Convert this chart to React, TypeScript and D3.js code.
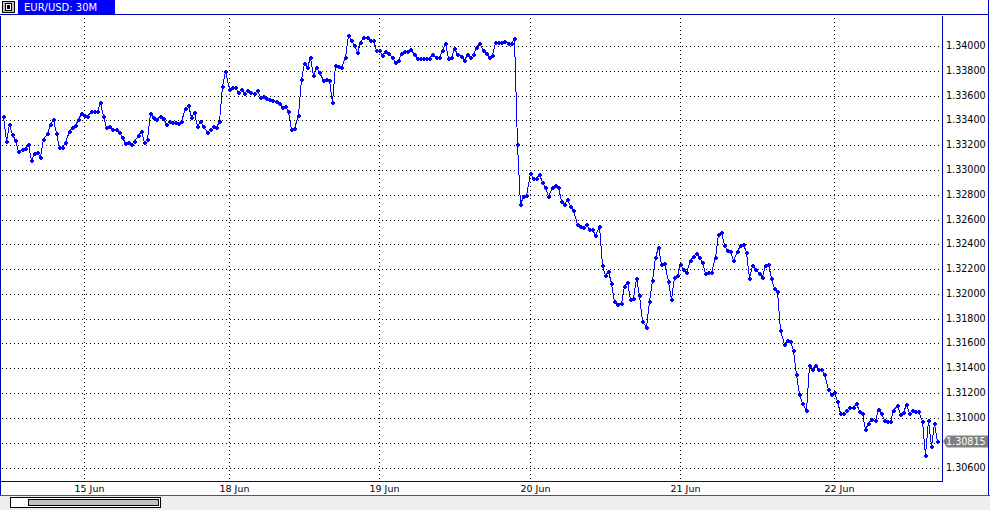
import React from "react";
import * as d3 from "d3";

const PRICES: number[] = [
  1.33434, 1.33232, 1.33374, 1.33286, 1.3324, 1.33149, 1.3317, 1.33178, 1.33208, 1.33076,
  1.33136, 1.33141, 1.33103, 1.33246, 1.33294, 1.33374, 1.33412, 1.33294, 1.33181, 1.33181,
  1.33221, 1.33313, 1.33348, 1.33364, 1.33407, 1.33455, 1.33439, 1.33434, 1.33477, 1.33479,
  1.33474, 1.33544, 1.33434, 1.33345, 1.33353, 1.33329, 1.33329, 1.33302, 1.33267, 1.33213,
  1.33221, 1.33208, 1.33232, 1.33281, 1.3331, 1.33221, 1.33246, 1.33458, 1.33423, 1.33412,
  1.33434, 1.33415, 1.33369, 1.33391, 1.33384, 1.33389, 1.33378, 1.33397, 1.33497, 1.33524,
  1.3343, 1.33465, 1.33354, 1.33397, 1.33351, 1.33303, 1.33332, 1.33354, 1.33343, 1.33395,
  1.33673, 1.338, 1.33649, 1.33668, 1.33668, 1.33632, 1.33651, 1.33624, 1.33643, 1.33632,
  1.33622, 1.33643, 1.33586, 1.33597, 1.33578, 1.33573, 1.33565, 1.33559, 1.33543, 1.33505,
  1.33519, 1.33473, 1.33327, 1.33335, 1.33441, 1.33735, 1.33862, 1.33827, 1.33908, 1.33762,
  1.3383, 1.33792, 1.33722, 1.3373, 1.33724, 1.33548, 1.33848, 1.33834, 1.33826, 1.33909,
  1.34088, 1.34048, 1.34008, 1.33949, 1.34035, 1.34072, 1.34069, 1.34048, 1.34045, 1.33965,
  1.33965, 1.33928, 1.33957, 1.33941, 1.33907, 1.33869, 1.33888, 1.33939, 1.33955, 1.3396,
  1.33971, 1.33933, 1.33901, 1.33899, 1.33901, 1.33899, 1.33901, 1.33933, 1.33909, 1.33912,
  1.33968, 1.34027, 1.33899, 1.33912, 1.33981, 1.33931, 1.33915, 1.33883, 1.33933, 1.33912,
  1.33933, 1.33992, 1.34027, 1.33968, 1.33941, 1.33907, 1.33925, 1.34029, 1.34032, 1.34032,
  1.34043, 1.34021, 1.34021, 1.34061, 1.33208, 1.32727, 1.32792, 1.32797, 1.32973, 1.32938,
  1.32938, 1.32965, 1.32906, 1.32866, 1.32792, 1.32861, 1.3288, 1.32861, 1.32751, 1.32725,
  1.32765, 1.32711, 1.32679, 1.32562, 1.32546, 1.32541, 1.32562, 1.32527, 1.32527, 1.32471,
  1.32549, 1.32234, 1.32153, 1.32188, 1.32086, 1.31944, 1.3192, 1.31926, 1.3206, 1.321,
  1.31958, 1.31963, 1.32127, 1.3199, 1.31784, 1.31733, 1.31944, 1.32113, 1.32301, 1.32376,
  1.32242, 1.32247, 1.32105, 1.31958, 1.3214, 1.32153, 1.32239, 1.32199, 1.3218, 1.32274,
  1.32306, 1.32328, 1.32301, 1.32261, 1.32167, 1.32175, 1.3218, 1.32301, 1.32483, 1.32502,
  1.32395, 1.32354, 1.32349, 1.32274, 1.32346, 1.32395, 1.32403, 1.32341, 1.32127, 1.32234,
  1.32202, 1.32167, 1.32135, 1.32234, 1.32239, 1.32127, 1.32046, 1.32025, 1.31708, 1.31593,
  1.31627, 1.31622, 1.31544, 1.31357, 1.31191, 1.31124, 1.31062, 1.31424, 1.31397, 1.31424,
  1.31392, 1.31397, 1.31357, 1.31236, 1.3119, 1.31212, 1.31137, 1.31036, 1.31039, 1.31063,
  1.31087, 1.3109, 1.3112, 1.31055, 1.31039, 1.30913, 1.30959, 1.30991, 1.30986, 1.31071,
  1.31039, 1.3098, 1.30972, 1.30972, 1.31061, 1.31104, 1.31034, 1.31045, 1.31112, 1.31039,
  1.31063, 1.31055, 1.31055, 1.30975, 1.30704, 1.3098, 1.30777, 1.30959, 1.30815,
];

const DATE_TICK_INDEX = [26, 72, 120, 168, 216, 265];
const DATE_LABELS = ["15 Jun", "18 Jun", "19 Jun", "20 Jun", "21 Jun", "22 Jun"];
const PRICE_TICKS = [
  1.306, 1.308, 1.31, 1.312, 1.314, 1.316, 1.318, 1.32, 1.322,
  1.324, 1.326, 1.328, 1.33, 1.332, 1.334, 1.336, 1.338, 1.34,
];
const SYMBOL_LABEL = "EUR/USD: 30M";
const LAST_PRICE = 1.30815;

const FONT = "'DejaVu Sans', Verdana, sans-serif";
const FRAME = "#0000b4";
const LINE = "#0000ff";

export default function App() {
  const W = 990;
  const H = 510;
  const plotL = 0.5;
  const plotR = 942.5;
  const plotT = 15.5;
  const plotB = 481.5;

  const x = d3.scaleLinear().domain([0, PRICES.length - 1]).range([2.7, 937.3]);
  const y = d3.scaleLinear().domain([1.306, 1.34]).range([467.5, 45.9]);
  const line = d3
    .line<number>()
    .x((_, i) => Math.round(x(i)) + 0.5)
    .y((d) => Math.round(y(d)) + 0.5);

  const fmt = d3.format(".5f");
  const lastY = Math.round(y(LAST_PRICE)) + 0.5;

  return (
    <svg
      width={W}
      height={H}
      style={{ position: "absolute", left: 0, top: 0, display: "block", background: "#fff" }}
      fontFamily={FONT}
    >
      {/* header */}
      <rect x={2.5} y={1.5} width={12} height={11} fill="#c0c0c0" stroke="#000" />
      <rect x={5.5} y={3.5} width={6} height={7} fill="#fff" stroke="#000" />
      <rect x={7} y={5} width={3} height={4} fill="#000" />
      <rect x={18} y={0} width={97} height={15} fill="#0000ff" />
      <text x={24} y={11} fontSize={10} fill="#fff">
        {SYMBOL_LABEL}
      </text>

      {/* grid */}
      <g shapeRendering="crispEdges">
        {PRICE_TICKS.map((t) => {
          const yy = Math.round(y(t)) + 0.5;
          return (
            <line key={"h" + t} x1={2} x2={940} y1={yy} y2={yy} stroke="#000" strokeDasharray="1 3" />
          );
        })}
        {DATE_TICK_INDEX.map((idx) => {
          const xx = Math.round(x(idx)) + 0.5;
          return (
            <line key={"v" + idx} x1={xx} x2={xx} y1={18} y2={480} stroke="#000" strokeDasharray="1 3" />
          );
        })}
      </g>

      {/* series */}
      <path d={line(PRICES) || ""} fill="none" stroke={LINE} strokeWidth={1} shapeRendering="crispEdges" />
      <g fill={LINE} shapeRendering="crispEdges">
        {PRICES.map((p, i) => {
          const cx = Math.round(x(i));
          const cy = Math.round(y(p));
          return (
            <g key={i}>
              <rect x={cx - 1} y={cy} width={4} height={2} />
              <rect x={cx} y={cy - 1} width={2} height={4} />
            </g>
          );
        })}
      </g>

      {/* frame */}
      <g shapeRendering="crispEdges" fill="none">
        <line x1={0} x2={989} y1={plotT - 1} y2={plotT - 1} stroke={FRAME} />
        <line x1={plotL} x2={plotL} y1={plotT} y2={495} stroke={FRAME} />
        <line x1={plotR} x2={plotR} y1={plotT} y2={plotB} stroke={FRAME} />
        <line x1={0} x2={plotR} y1={plotB} y2={plotB} stroke={FRAME} />
        <line x1={988.5} x2={988.5} y1={0} y2={495} stroke={FRAME} />
      </g>

      {/* price axis */}
      {PRICE_TICKS.map((t) => (
        <text key={"yl" + t} x={946} y={Math.round(y(t))} dy="0.35em" fontSize={9.6} fill="#000">
          {fmt(t)}
        </text>
      ))}
      <path
        d={`M943,${lastY} L947,${lastY - 6} L988,${lastY - 6} L988,${lastY + 6} L947,${lastY + 6} Z`}
        fill="#808080"
      />
      <text x={946} y={lastY} dy="0.35em" fontSize={9.6} fill="#fff">
        {fmt(LAST_PRICE)}
      </text>

      {/* date axis */}
      {DATE_TICK_INDEX.map((idx, k) => (
        <text
          key={"xl" + idx}
          x={Math.round(x(idx)) + 5.5}
          y={492}
          textAnchor="middle"
          fontSize={9.5}
          fill="#000"
        >
          {DATE_LABELS[k]}
        </text>
      ))}

      {/* scrollbar */}
      <rect x={0} y={495} width={W} height={15} fill="#eeeeee" />
      <line x1={0} x2={W} y1={495.5} y2={495.5} stroke="#1a5fd0" shapeRendering="crispEdges" />
      <rect x={10.5} y={497.5} width={150} height={10} fill="#fff" stroke="#000" shapeRendering="crispEdges" />
      <rect x={28.5} y={499.5} width={130} height={6} fill="#c0c0c0" stroke="#000" shapeRendering="crispEdges" />
    </svg>
  );
}
